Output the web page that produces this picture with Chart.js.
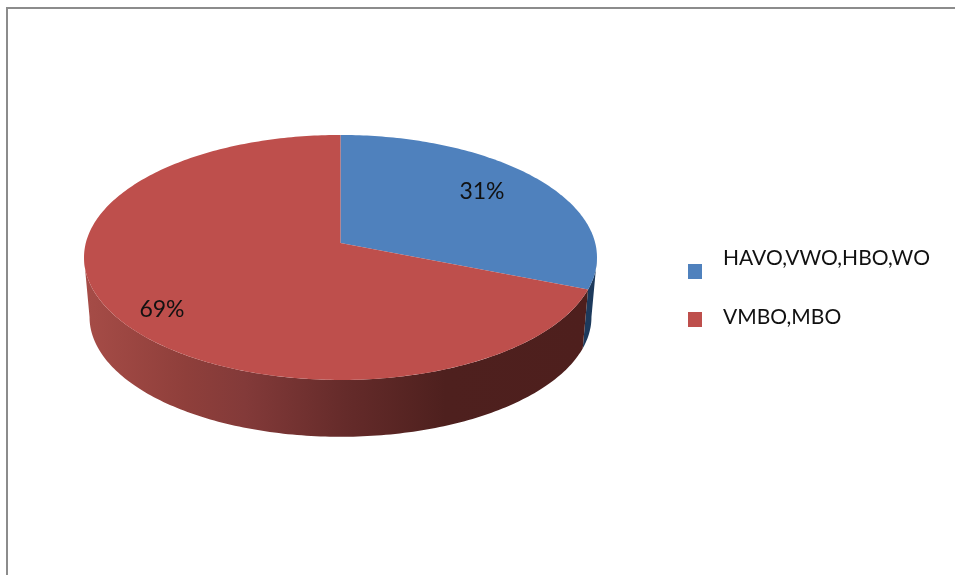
<!DOCTYPE html>
<html>
<head>
<meta charset="utf-8">
<style>
  html, body { margin: 0; padding: 0; background: #fff; }
  canvas { display: block; }
</style>
<script src="https://cdn.jsdelivr.net/npm/chart.js@4"></script>
</head>
<body>
<canvas id="pie3d" width="955" height="575"></canvas>
<script>
const categories = ['HAVO,VWO,HBO,WO', 'VMBO,MBO'];
const shares = [31, 69];
const topColors = ['#4f81bd', '#be4f4c'];
const sideColors = ['#1d3a5c', '#4e1f1d'];

// perspective of the disc: far edge is smaller than near edge
const CX = 340.5, TILT = 0.118;
const TOP = { y: 243, a: 254.7, b: 120.8 };
const BOTTOM = { y: 303, a: 249.2, b: 118 };

function project(plane, angle, r = 1) {
  // angle as chart.js gives it, -PI/2 is 12 o'clock
  const u = Math.cos(angle) * r, v = Math.sin(angle) * r;
  const w = 1 - TILT * v;
  return [CX + plane.a * u / w, plane.y + plane.b * v / w];
}

function rim(ctx, plane, from, to) {
  const steps = Math.max(2, Math.ceil(Math.abs(to - from) * 60));
  for (let i = 0; i <= steps; i++) {
    const p = project(plane, from + (to - from) * i / steps);
    ctx.lineTo(p[0], p[1]);
  }
}

const disc3d = {
  id: 'disc3d',
  beforeDatasetsDraw(chart) {
    const ctx = chart.ctx;
    const arcs = chart.getDatasetMeta(0).data;
    const edge = Math.asin(TILT); // silhouette of the wall, right side
    const leftEdge = Math.PI - edge;

    // wall, only the front half shows
    arcs.forEach((arc, i) => {
      const from = Math.max(arc.startAngle, edge);
      const to = Math.min(arc.endAngle, leftEdge);
      if (to <= from) return;
      ctx.beginPath();
      rim(ctx, TOP, from, to);
      rim(ctx, BOTTOM, to, from);
      ctx.closePath();
      if (i === 1) {
        const g = ctx.createLinearGradient(85, 0, 585, 0);
        g.addColorStop(0, '#a64c47');
        g.addColorStop(0.2, '#8f3f3b');
        g.addColorStop(0.32, '#833a39');
        g.addColorStop(0.52, '#652b2a');
        g.addColorStop(0.72, '#4e201e');
        g.addColorStop(1, sideColors[1]);
        ctx.fillStyle = g;
      } else {
        ctx.fillStyle = sideColors[i];
      }
      ctx.fill();
    });

    // top face
    arcs.forEach((arc, i) => {
      ctx.beginPath();
      ctx.moveTo(CX, TOP.y);
      rim(ctx, TOP, arc.startAngle, arc.endAngle);
      ctx.closePath();
      ctx.fillStyle = topColors[i];
      ctx.fill();
    });
    return false;
  },
  afterDraw(chart) {
    const ctx = chart.ctx;
    ctx.save();

    // frame
    ctx.strokeStyle = '#8c8c8c';
    ctx.lineWidth = 2;
    ctx.beginPath();
    ctx.moveTo(7, 575);
    ctx.lineTo(7, 8);
    ctx.lineTo(955, 8);
    ctx.stroke();

    ctx.fillStyle = '#111';
    ctx.textBaseline = 'middle';

    // percent labels
    ctx.font = '23px Lato, sans-serif';
    ctx.textAlign = 'center';
    const spots = [[482, 192], [162, 310]];
    shares.forEach((s, i) => ctx.fillText(s + '%', spots[i][0], spots[i][1]));

    // legend, markers sit lower than their text like in the original
    ctx.font = '21px Lato, sans-serif';
    ctx.textAlign = 'left';
    const rows = [[258, 264], [317, 312]];
    categories.forEach((c, i) => {
      ctx.fillStyle = topColors[i];
      ctx.fillRect(688, rows[i][1], 14, 15);
      ctx.fillStyle = '#111';
      ctx.fillText(c, 723, rows[i][0]);
    });
    ctx.restore();
  }
};

new Chart(document.getElementById('pie3d'), {
  type: 'pie',
  data: {
    labels: categories,
    datasets: [{ data: shares, backgroundColor: topColors, borderWidth: 0 }]
  },
  options: {
    responsive: false,
    animation: false,
    plugins: { legend: { display: false }, tooltip: { enabled: false } }
  },
  plugins: [disc3d]
});
</script>
</body>
</html>
